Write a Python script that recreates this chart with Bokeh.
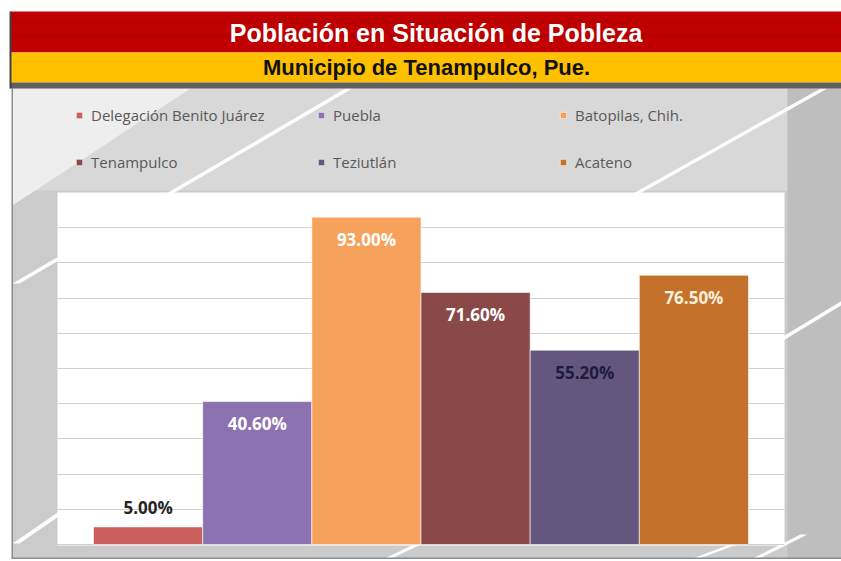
from bokeh.plotting import figure
from bokeh.models import (Range1d, ColumnDataSource, Grid, FixedTicker,
                          PolyAnnotation, BoxAnnotation, Label)
from bokeh.core.properties import value
from bokeh.embed import file_html
from bokeh.resources import INLINE

# ---------------- data ----------------
categories = ["Delegación Benito Juárez", "Puebla", "Batopilas, Chih.",
              "Tenampulco", "Teziutlán", "Acateno"]
poverty_pct = [5.0, 40.6, 93.0, 71.6, 55.2, 76.5]
grid_ticks = [0, 10, 20, 30, 40, 50, 60, 70, 80, 90]
title_text = "Población en Situación de Pobleza"
subtitle_text = "Municipio de Tenampulco, Pue."

# ---------------- styles ----------------
bar_colors = ["#c9605e", "#8c72b0", "#f6a25c", "#8b4849", "#655680", "#c4712b"]
label_colors = ["#262626", "#ffffff", "#ffffff", "#ffffff", "#1c1c3c", "#fdf0dc"]

W, H = 841, 561
# plot area (white) in canvas pixels, and its data extent
PL, PR, PT, PB = 57, 784, 192, 544
X0, X1 = -0.83, len(categories) - 1 + 0.83
Y0, Y1 = 0, 100
sx = (PR - PL) / (X1 - X0)
sy = (PB - PT) / (Y1 - Y0)
x_range = Range1d(X0 - PL / sx, X1 + (W - PR) / sx)
y_range = Range1d(Y0 - (H - PB) / sy, Y1 + PT / sy)

p = figure(width=W, height=H, x_range=x_range, y_range=y_range,
           output_backend="svg", toolbar_location=None,
           x_axis_location=None, y_axis_location=None,
           min_border=0, outline_line_color=None,
           background_fill_color="white", border_fill_color="white")
p.xgrid.visible = False
p.ygrid.visible = False


# helpers for decorative shapes: canvas pixels -> data coords
def rx(px):
    return x_range.start + px / sx


def ry(py):
    return y_range.end - py / sy


def deco(pts, color, alpha=1.0):
    p.add_layout(PolyAnnotation(xs=[rx(a) for a, b in pts], ys=[ry(b) for a, b in pts],
                                fill_color=color, fill_alpha=alpha,
                                line_color=None, level="image"))


def rect(x0, y0, x1, y1, color, alpha=1.0):
    deco([(x0, y0), (x1, y0), (x1, y1), (x0, y1)], color, alpha)


def stripe(x0, y0, x1, y1, w=7, color="white", alpha=0.95):
    deco([(x0, y0), (x1, y1), (x1 + w, y1), (x0 + w, y0)], color, alpha)


# chart background
rect(12, 88, 845, 558, "#cbcbcb")
rect(12, 88, 787, 190, "#d8d8d8")
deco([(12, 88), (190, 88), (12, 205)], "#eeeeee")
rect(787, 88, 845, 558, "#bebebe")
stripe(12, 283, 345, 88)
stripe(620, 200, 820, 88)
stripe(700, 386, 845, 298)
stripe(384, 558, 430, 536)
stripe(12, 543, 60, 510)
stripe(692, 558, 740, 540)
stripe(752, 558, 800, 534)
rect(11, 88, 12.5, 558, "#8c8c8c")
rect(11, 557, 845, 558.5, "#8c8c8c")

# banner
rect(10, 11, 845, 52, "#c00000")
rect(10, 19, 845, 23, "#b30000", 0.6)
rect(10, 33, 845, 37, "#b30000", 0.6)
rect(10, 52, 845, 82, "#ffc000")
rect(10, 82, 845, 88, "#5f5f5f")
rect(9, 11, 11, 88, "#404040")

# white plot area
p.add_layout(BoxAnnotation(left=X0, right=X1, bottom=Y0 - 0.3, top=Y1,
                           fill_color="white", fill_alpha=1.0,
                           line_color=None, level="image"))

grid = Grid(dimension=1, ticker=FixedTicker(ticks=grid_ticks),
            grid_line_color="#d0d0d0", grid_line_width=1)
try:
    grid.cross_bounds = (X0, X1)
except AttributeError:
    pass
p.add_layout(grid)

# bars
src = ColumnDataSource(dict(
    x=list(range(len(categories))),
    value=poverty_pct,
    name=categories,
    color=bar_colors,
    label=[f"{v:.2f}%" for v in poverty_pct],
    tcolor=label_colors,
    yoff=[-19 if v < 10 else 22 for v in poverty_pct],
))
p.vbar(x="x", top="value", bottom=0, width=1.0, source=src,
       fill_color="color", line_color="white", line_alpha=0.6,
       legend_field="name")

p.text(x="x", y="value", text="label", source=src, y_offset="yoff",
       text_color="tcolor", text_font=value("Open Sans"),
       text_font_style="bold", text_font_size="17px",
       text_align="center", text_baseline="middle")

# legend
lg = p.legend[0]
lg.orientation = "horizontal"
lg.ncols = 3
lg.location = (75, 389)
lg.glyph_width = 8
lg.glyph_height = 8
lg.label_standoff = 8
lg.label_width = 199
lg.label_height = 20
lg.spacing = 27
lg.padding = 0
lg.margin = 0
lg.border_line_color = None
lg.background_fill_alpha = 0
lg.label_text_font = "Open Sans"
lg.label_text_font_size = "15px"
lg.label_text_color = "#595959"

# banner texts
p.add_layout(Label(x=rx(435.5), y=ry(32), text=title_text,
                   text_color="white", text_font="Liberation Sans",
                   text_font_style="bold", text_font_size="25px",
                   text_align="center", text_baseline="middle"))
p.add_layout(Label(x=rx(426), y=ry(67), text=subtitle_text,
                   text_color="#111111", text_font="Liberation Sans",
                   text_font_style="bold", text_font_size="22px",
                   text_align="center", text_baseline="middle"))

open("out.html", "w").write(file_html(p, INLINE))
